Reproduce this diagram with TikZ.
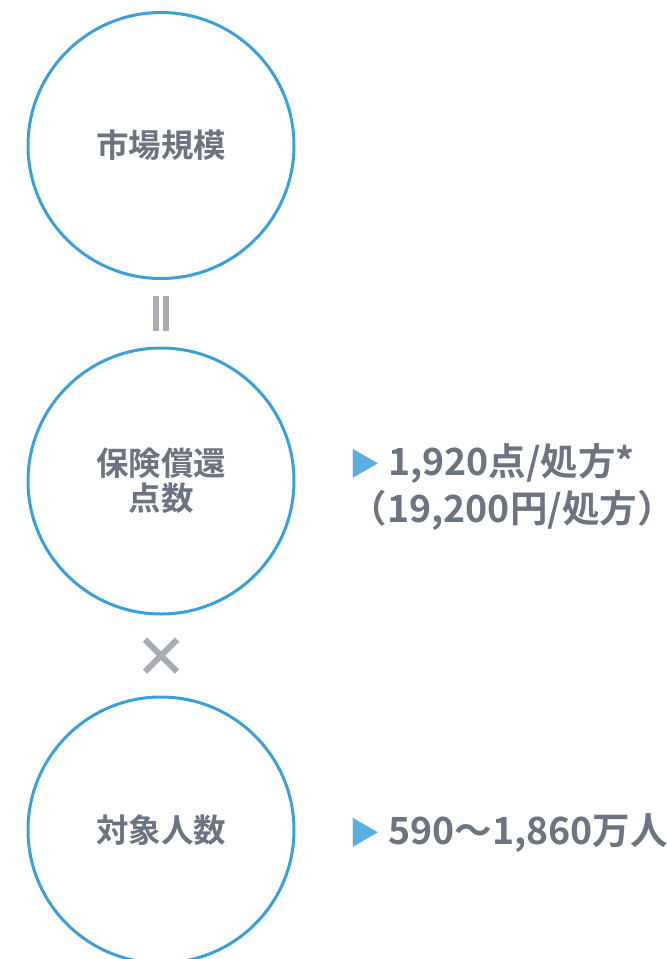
\documentclass[tikz,border=0pt]{standalone}
\usepackage{fontspec}
\setmainfont{Noto Sans CJK JP}[BoldFont={* Bold}]
\usetikzlibrary{calc}
\definecolor{ringblue}{HTML}{3AA0D8}
\definecolor{arrowblue}{HTML}{5AAEE0}
\definecolor{labelgray}{HTML}{6B7480}
\definecolor{opgray}{HTML}{A8ACB3}
\tikzset{
  factor/.style={circle, draw=ringblue, line width=3pt, minimum size=266pt, inner sep=0pt,
    text=labelgray, align=center, font=\fontsize{32.5}{35}\selectfont\bfseries},
  value/.style={anchor=west, inner sep=0pt, text=labelgray, align=left,
    font=\fontsize{37.5}{47}\selectfont\bfseries},
  opbar/.style={fill=opgray},
  opcross/.style={draw=opgray, line width=6pt}
}
\newcommand{\bullettri}{{\color{arrowblue}\fontsize{31}{31}\selectfont ▶}\hspace{7.5pt}}
\begin{document}
\begin{tikzpicture}[x=1pt,y=-1pt]
  \useasboundingbox (0,0) rectangle (667,959);
  \clip (0,0) rectangle (667,959);
  % factors
  \node[factor] (market) at (161,145.5) {市場規模};
  \node[factor] (points) at (161,481) {保険償還\\点数};
  \node[factor] (people) at (161,830) {対象人数};
  % values
  \node[value] (pointsval) at (349.5,487) {\bullettri 1,920点/処方*\\（19,200円/処方）};
  \node[value] (peopleval) at (349.5,833) {\bullettri 590～1,860万人};
  % operators
  \coordinate (eq) at ($(market.south)!0.5!(points.north)$);
  \coordinate (times) at ($(points.south)!0.5!(people.north)$);
  \fill[opbar] ([shift={(-8pt,-17.5pt)}]eq) rectangle ([shift={(-2pt,17.5pt)}]eq);
  \fill[opbar] ([shift={(2pt,-17.5pt)}]eq) rectangle ([shift={(8pt,17.5pt)}]eq);
  \draw[opcross] ([shift={(-16pt,-16pt)}]times) -- ([shift={(16pt,16pt)}]times);
  \draw[opcross] ([shift={(-16pt,16pt)}]times) -- ([shift={(16pt,-16pt)}]times);
\end{tikzpicture}
\end{document}
